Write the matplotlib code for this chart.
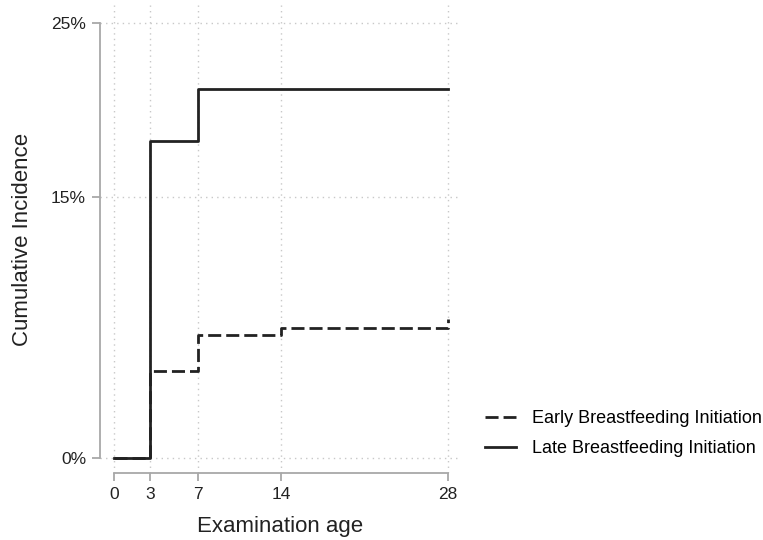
import matplotlib.pyplot as plt
from matplotlib.ticker import FuncFormatter

plt.rcParams['font.family'] = ['Liberation Sans', 'DejaVu Sans']

# Cumulative incidence (%) by examination age (days)
early_days = [0, 3, 7, 14, 28]
early_inc = [0.0, 5.0, 7.1, 7.5, 8.0]
late_days = [0, 3, 7, 28]
late_inc = [0.0, 18.2, 21.2, 21.2]

x_ticks = [0, 3, 7, 14, 28]
y_ticks = [0, 15, 25]

fig = plt.figure(figsize=(7.63, 5.4), dpi=100)
ax = fig.add_axes([0.131, 0.124, 0.472, 0.866])

ax.plot(early_days, early_inc, drawstyle='steps-post', color='#222222', lw=2,
        dashes=(4.7, 1.8), label='Early Breastfeeding Initiation')
ax.plot(late_days, late_inc, drawstyle='steps-post', color='#222222', lw=2,
        label='Late Breastfeeding Initiation')

ax.set_xlim(-1.2, 29.0)
ax.set_ylim(-0.85, 26.0)
ax.set_xticks(x_ticks)
ax.set_yticks(y_ticks)
ax.yaxis.set_major_formatter(FuncFormatter(lambda v, p: f'{v:.0f}%'))

ax.grid(True, linestyle=(0, (1, 3)), color='#c8c8c8', lw=1)
ax.set_axisbelow(True)

for s in ['top', 'right']:
    ax.spines[s].set_visible(False)
ax.spines['left'].set_bounds(0, 25)
ax.spines['bottom'].set_bounds(0, 28)
for s in ['left', 'bottom']:
    ax.spines[s].set_color('#a8a8a8')
    ax.spines[s].set_linewidth(1.3)
ax.tick_params(colors='#a8a8a8', labelcolor='#222222', length=6, width=1.3,
               labelsize=12.5, pad=4)

ax.set_xlabel('Examination age', fontsize=16, color='#222222', labelpad=10)
ax.set_ylabel('Cumulative Incidence', fontsize=16, color='#222222', labelpad=13)

fig.legend(loc='center left', bbox_to_anchor=(0.615, 0.197), frameon=False,
           fontsize=13, handlelength=1.7, handletextpad=0.85, labelspacing=0.7)

fig.savefig('out.png', dpi=100)
